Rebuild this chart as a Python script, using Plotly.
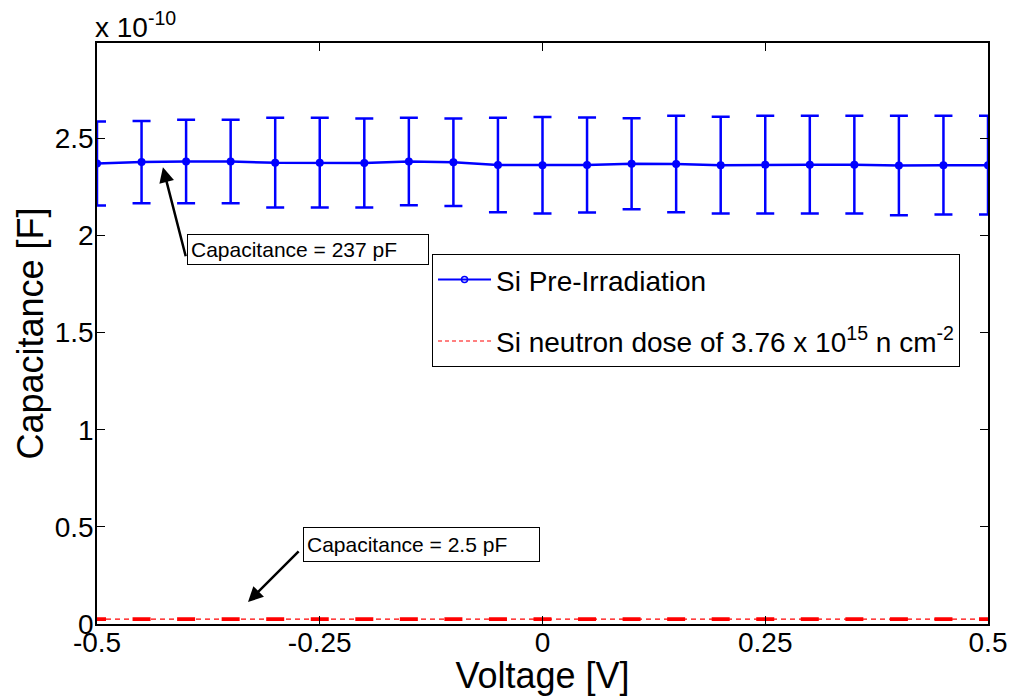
import plotly.graph_objects as go

# ---- data (capacitance in units of 1e-10 F) ----
voltage = [-0.5, -0.45, -0.4, -0.35, -0.3, -0.25, -0.2, -0.15, -0.1, -0.05, 0.0,
           0.05, 0.1, 0.15, 0.2, 0.25, 0.3, 0.35, 0.4, 0.45, 0.5]
cap_pre = [2.370, 2.377, 2.380, 2.380, 2.374, 2.374, 2.373, 2.380, 2.376, 2.362, 2.361,
           2.362, 2.369, 2.367, 2.361, 2.364, 2.364, 2.364, 2.359, 2.361, 2.361]
err_pre = [0.216, 0.212, 0.215, 0.215, 0.231, 0.231, 0.229, 0.225, 0.225, 0.243, 0.248,
           0.244, 0.234, 0.248, 0.249, 0.251, 0.251, 0.251, 0.256, 0.254, 0.254]
cap_irr = [0.025, 0.025, 0.025, 0.025, 0.025, 0.025, 0.025, 0.025, 0.025, 0.025, 0.025,
           0.025, 0.025, 0.025, 0.025, 0.025, 0.025, 0.025, 0.025, 0.025, 0.025]
err_irr = [0.003] * 21

x_ticks = [-0.5, -0.25, 0, 0.25, 0.5]
x_ticklabels = ["-0.5", "-0.25", "0", "0.25", "0.5"]
y_ticks = [0, 0.5, 1, 1.5, 2, 2.5]
y_ticklabels = ["0", "0.5", "1", "1.5", "2", "2.5"]

name_pre = "Si Pre-Irradiation"
name_irr = "Si neutron dose of 3.76 x 10<sup>15</sup> n cm<sup>-2</sup>"

FONT = "Liberation Sans, Arial, sans-serif"

fig = go.Figure()
fig.add_trace(go.Scatter(
    x=voltage, y=cap_pre, mode="lines+markers", name=name_pre, showlegend=False,
    line=dict(color="#0000FF", width=2.5),
    marker=dict(symbol="circle", size=8, color="#0000FF"),
    error_y=dict(type="data", array=err_pre, visible=True, color="#0000FF",
                 thickness=2.5, width=9),
))
fig.add_trace(go.Scatter(
    x=voltage, y=cap_irr, mode="lines", name=name_irr, showlegend=False,
    line=dict(color="#FF0000", width=1.2, dash="5px,4px"),
    error_y=dict(type="data", array=err_irr, visible=True, color="#FF0000",
                 thickness=2.5, width=9),
))
# legend entries (MATLAB-style small open marker)
fig.add_trace(go.Scatter(
    x=[None], y=[None], mode="lines+markers", name=name_pre, legendgroup="a",
    line=dict(color="#0000FF", width=2),
    marker=dict(symbol="circle-open", size=6, color="#0000FF", line=dict(width=1.5)),
))
fig.add_trace(go.Scatter(
    x=[None], y=[None], mode="lines", name=name_irr, legendgroup="b",
    line=dict(color="#FF0000", width=1.2, dash="4px,3px"),
))

# arrows (head, tail in data coordinates)
fig.add_annotation(x=-0.426, y=2.35, ax=-0.400, ay=1.885, xref="x", yref="y",
                   axref="x", ayref="y", text="", showarrow=True,
                   arrowhead=2, arrowsize=1.2, arrowwidth=2.5, arrowcolor="black")
fig.add_annotation(x=-0.3305, y=0.113, ax=-0.272, ay=0.381, xref="x", yref="y",
                   axref="x", ayref="y", text="", showarrow=True,
                   arrowhead=2, arrowsize=1.2, arrowwidth=2.5, arrowcolor="black")

# text boxes
fig.add_annotation(x=-0.399, y=2.007, xref="x", yref="y", xanchor="left", yanchor="top",
                   text="Capacitance = 237 pF", showarrow=False, align="left",
                   width=234, height=23, bordercolor="black", borderwidth=1,
                   borderpad=3, bgcolor="white",
                   font=dict(family=FONT, size=21, color="black"))
fig.add_annotation(x=-0.2688, y=0.499, xref="x", yref="y", xanchor="left", yanchor="top",
                   text="Capacitance = 2.5 pF", showarrow=False, align="left",
                   width=229, height=27, bordercolor="black", borderwidth=1,
                   borderpad=3, bgcolor="white",
                   font=dict(family=FONT, size=21, color="black"))

# exponent label
fig.add_annotation(x=0, y=1, xref="paper", yref="paper", xanchor="left", yanchor="bottom",
                   xshift=-4, yshift=-2, text="x 10<sup>-10</sup>", showarrow=False,
                   font=dict(family=FONT, size=28, color="black"))

axis_common = dict(showline=True, linecolor="black", linewidth=1.5, mirror="ticks",
                   ticks="inside", ticklen=8, tickcolor="black", tickwidth=1,
                   showgrid=False, zeroline=False, automargin=False,
                   tickfont=dict(family=FONT, size=28, color="black"))

fig.update_xaxes(range=[-0.5, 0.5], tickvals=x_ticks, ticktext=x_ticklabels,
                 ticklabelstandoff=-7,
                 title=dict(text="Voltage [V]", font=dict(family=FONT, size=36, color="black"),
                            standoff=6),
                 **axis_common)
fig.update_yaxes(range=[0, 2.99], tickvals=y_ticks, ticktext=y_ticklabels,
                 ticklabelstandoff=-4,
                 title=dict(text="Capacitance [F]", font=dict(family=FONT, size=36, color="black"),
                            standoff=0),
                 **axis_common)

fig.update_layout(
    width=1011, height=696,
    margin=dict(l=97, r=23, t=43, b=72),
    plot_bgcolor="white", paper_bgcolor="white",
    font=dict(family=FONT, color="black"),
    showlegend=True,
    legend=dict(x=0.376, y=0.637, xanchor="left", yanchor="top",
                bgcolor="white", bordercolor="black", borderwidth=1,
                font=dict(family=FONT, size=28, color="black"),
                traceorder="grouped", tracegroupgap=22, itemwidth=53),
)

fig.write_html(
    "out.html",
    config={"displayModeBar": False},
    post_script="document.body.style.margin='0';document.body.style.overflow='hidden';",
)
